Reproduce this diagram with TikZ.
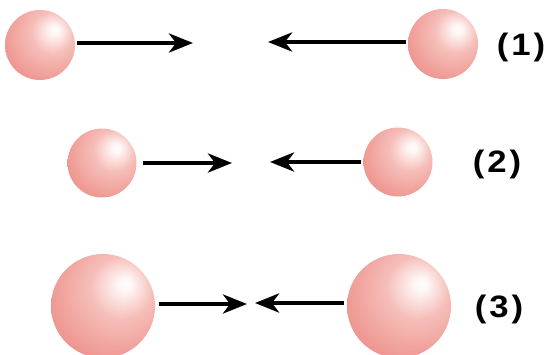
\documentclass[tikz,border=0pt]{standalone}
\usepackage{fontspec}
\setmainfont{Liberation Sans}
\usetikzlibrary{arrows.meta}
\definecolor{sphmid}{RGB}{246,190,185}
\definecolor{sphbody}{RGB}{238,148,142}
\definecolor{sphedge}{RGB}{241,160,154}
\pgfdeclareradialshading{sph}{\pgfpoint{11bp}{11bp}}{%
  color(0bp)=(white!95!sphmid);
  color(3bp)=(white!88!sphmid);
  color(15bp)=(sphmid);
  color(34bp)=(sphbody);
  color(58bp)=(sphbody);
  color(75bp)=(sphedge)}
\newcommand{\plabel}[1]{\bfseries\scalebox{1.12}[1]{(}\hspace{3pt}\scalebox{1.12}[1]{#1}\hspace{3pt}\scalebox{1.12}[1]{)}}
\tikzset{
  ball/.style={circle, inner sep=0pt, minimum size=#1, shading=sph},
  force/.style={line width=4.5pt, -{Stealth[length=24pt,width=19pt,inset=7pt]}},
  lab/.style={inner sep=0pt, font=\fontsize{31}{36}\selectfont}
}
\begin{document}
\begin{tikzpicture}[x=1pt,y=-1pt]
\useasboundingbox (0,0) rectangle (548,354);
% row 1
\node[ball=70pt] (a1) at (40,45) {};
\node[ball=70pt] (b1) at (443,44) {};
\coordinate (ta1) at (193,43);
\coordinate (tb1) at (268,42);
\draw[force] ([shift={(2,-2)}]a1.east) coordinate (sa1) (sa1) -- (ta1);
\draw[force] ([shift={(-2,-2)}]b1.west) coordinate (sb1) (sb1) -- (tb1);
\node[lab] (l1) at (521,47) {\plabel{1}};
% row 2
\node[ball=69pt] (a2) at (102,163) {};
\node[ball=69pt] (b2) at (398,162) {};
\coordinate (ta2) at (232,163);
\coordinate (tb2) at (270,162);
\draw[force] ([shift={(6,0)}]a2.east) coordinate (sa2) (sa2) -- (ta2);
\draw[force] ([shift={(-2,0)}]b2.west) coordinate (sb2) (sb2) -- (tb2);
\node[lab] (l2) at (497,164) {\plabel{2}};
% row 3
\node[ball=104pt] (a3) at (103,306) {};
\node[ball=104pt] (b3) at (399,306) {};
\coordinate (ta3) at (247,304);
\coordinate (tb3) at (255,303);
\draw[force] ([shift={(4,-2)}]a3.east) coordinate (sa3) (sa3) -- (ta3);
\draw[force] ([shift={(-3,-3)}]b3.west) coordinate (sb3) (sb3) -- (tb3);
\node[lab] (l3) at (499,309) {\plabel{3}};
\end{tikzpicture}
\end{document}
